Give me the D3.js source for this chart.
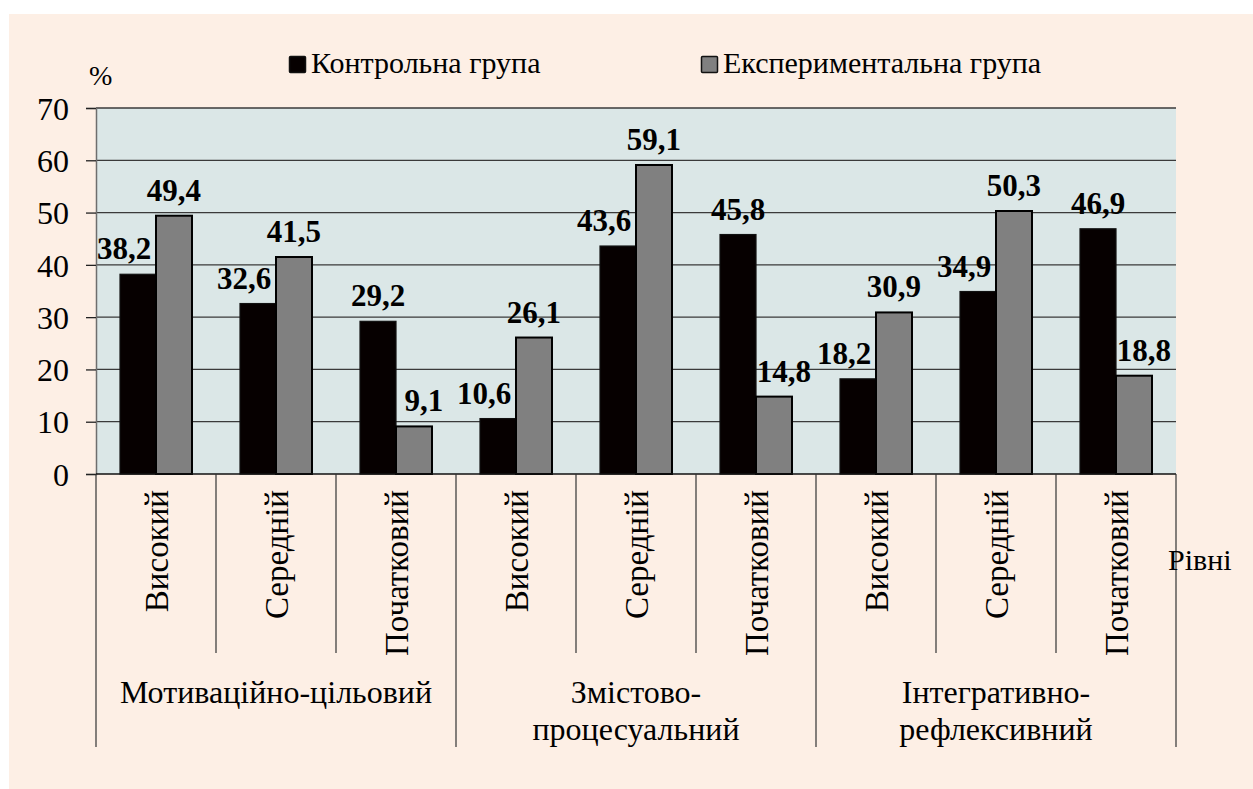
<!DOCTYPE html>
<html>
<head>
<meta charset="utf-8">
<script src="https://cdn.jsdelivr.net/npm/d3@7"></script>
<style>
  html, body { margin: 0; padding: 0; background: #ffffff; }
  svg { display: block; }
</style>
</head>
<body>
<svg id="chart" width="1253" height="789"></svg>
<script>
// ---- data ----
const groupLines = [["Мотиваційно-цільовий"], ["Змістово-", "процесуальний"], ["Інтегративно-", "рефлексивний"]];
const levels = ["Високий", "Середній", "Початковий"];
const seriesNames = ["Контрольна група", "Експериментальна група"];
const control = [38.2, 32.6, 29.2, 10.6, 43.6, 45.8, 18.2, 34.9, 46.9];
const experimental = [49.4, 41.5, 9.1, 26.1, 59.1, 14.8, 30.9, 50.3, 18.8];
const yTicks = [0, 10, 20, 30, 40, 50, 60, 70];
const yLabel = "%";
const xLabel = "Рівні";

// ---- layout ----
const W = 1253, H = 789;
const FONT = "Liberation Serif";
const plot = { left: 96, right: 1176, top: 108, bottom: 474 };
const colors = { page: "#fdefe5", plot: "#dbe7e7", control: "#060000", exp: "#808080" };

const svg = d3.select("#chart");
const txt = (sel, size, weight) => sel.style("font-family", FONT).style("font-size", size + "px")
  .style("font-weight", weight || "normal").style("fill", "#000");

svg.append("rect").attr("x", 0).attr("y", 0).attr("width", W).attr("height", H).attr("fill", "#ffffff");
svg.append("rect").attr("x", 9).attr("y", 14).attr("width", W - 9).attr("height", H - 14).attr("fill", colors.page);

// categories: each group x level
const cats = [];
groupLines.forEach((g, gi) => levels.forEach((l, li) => cats.push({ key: gi + "-" + li, gi, li, level: l })));
cats.forEach((c, i) => { c.control = control[i]; c.exp = experimental[i]; });

const x = d3.scaleBand().domain(cats.map(c => c.key)).range([plot.left, plot.right]).padding(0);
const xInner = d3.scaleBand().domain(["control", "exp"]).range([0, x.bandwidth()]).paddingInner(0).paddingOuter(0.667);
const y = d3.scaleLinear().domain([0, 70]).range([plot.bottom, plot.top]);

// plot background
svg.append("rect").attr("x", plot.left).attr("y", plot.top)
  .attr("width", plot.right - plot.left).attr("height", plot.bottom - plot.top)
  .attr("fill", colors.plot);

// gridlines
svg.append("g").selectAll("line").data(yTicks.filter(t => t > 0)).join("line")
  .attr("x1", plot.left).attr("x2", plot.right)
  .attr("y1", d => y(d)).attr("y2", d => y(d))
  .attr("stroke", "#3a3a3a").attr("stroke-width", 1.3);

// y axis
const yAxis = d3.axisLeft(y).tickValues(yTicks).tickSize(10).tickPadding(17).tickFormat(d3.format("d"));
const yg = svg.append("g").attr("transform", `translate(${plot.left},0)`).call(yAxis);
yg.attr("font-family", null).attr("font-size", null);
yg.select(".domain").attr("stroke", "#6e6e6e").attr("stroke-width", 1.5);
yg.selectAll(".tick line").attr("stroke", "#222").attr("stroke-width", 1.3);
txt(yg.selectAll(".tick text"), 32).attr("dy", "0.35em");

// bars
const bars = svg.append("g");
cats.forEach(c => {
  bars.append("rect")
    .attr("x", x(c.key) + xInner("control")).attr("y", y(c.control))
    .attr("width", xInner.bandwidth()).attr("height", y(0) - y(c.control))
    .attr("fill", colors.control).attr("stroke", "#111").attr("stroke-width", 1.2);
  bars.append("rect")
    .attr("x", x(c.key) + xInner("exp")).attr("y", y(c.exp))
    .attr("width", xInner.bandwidth()).attr("height", y(0) - y(c.exp))
    .attr("fill", colors.exp).attr("stroke", "#000").attr("stroke-width", 2);
});

// value labels: shorter bar's label nudged away from taller neighbour
const fmt = v => v.toFixed(1).replace(".", ",");
const labels = svg.append("g");
cats.forEach(c => {
  const cShort = c.control < c.exp;
  const cx = x(c.key) + xInner("control") + xInner.bandwidth() / 2 + (cShort ? -14 : 0);
  const ex = x(c.key) + xInner("exp") + xInner.bandwidth() / 2 + (cShort ? 0 : 10);
  txt(labels.append("text").attr("x", cx).attr("y", y(c.control) - 15)
    .attr("text-anchor", "middle"), 31, "bold").text(fmt(c.control));
  txt(labels.append("text").attr("x", ex).attr("y", y(c.exp) - 15)
    .attr("text-anchor", "middle"), 31, "bold").text(fmt(c.exp));
});

// category axis
const axisColor = "#333";
svg.append("line").attr("x1", plot.left).attr("x2", plot.right).attr("y1", plot.bottom).attr("y2", plot.bottom)
  .attr("stroke", "#111").attr("stroke-width", 1.5);
const innerBottom = 653, outerBottom = 747;
const bounds = cats.map(c => ({ xPos: x(c.key), outer: c.li === 0 }));
bounds.push({ xPos: x(cats[cats.length - 1].key) + x.bandwidth(), outer: true });
svg.append("g").selectAll("line").data(bounds).join("line")
  .attr("x1", d => d.xPos).attr("x2", d => d.xPos)
  .attr("y1", plot.bottom).attr("y2", d => d.outer ? outerBottom : innerBottom)
  .attr("stroke", axisColor).attr("stroke-width", 1.2);

// level labels (rotated)
txt(svg.append("g").selectAll("text").data(cats).join("text")
  .attr("transform", d => `translate(${x(d.key) + x.bandwidth() / 2},490) rotate(-90)`)
  .attr("text-anchor", "end").attr("dy", "0.35em"), 33)
  .text(d => d.level);

// group labels
groupLines.forEach((lines, gi) => {
  const gx0 = x(gi + "-0"), gx1 = x(gi + "-2") + x.bandwidth();
  const t = txt(svg.append("text").attr("x", (gx0 + gx1) / 2).attr("y", 703)
    .attr("text-anchor", "middle"), 32);
  lines.forEach((ln, k) => t.append("tspan").attr("x", (gx0 + gx1) / 2).attr("dy", k === 0 ? 0 : 37).text(ln));
});

// axis titles
txt(svg.append("text").attr("x", 89).attr("y", 85), 28).text(yLabel);
txt(svg.append("text").attr("x", 1168).attr("y", 570), 30).text(xLabel);

// legend
const legend = [
  { name: seriesNames[0], fill: colors.control, sx: 289 },
  { name: seriesNames[1], fill: colors.exp, sx: 701 }
];
legend.forEach(l => {
  svg.append("rect").attr("x", l.sx + 0.5).attr("y", 56.5).attr("width", 16).attr("height", 16).attr("rx", 1)
    .attr("fill", l.fill).attr("stroke", "#111").attr("stroke-width", 1.5);
  txt(svg.append("text").attr("x", l.sx + 22).attr("y", 73), 30).text(l.name);
});
</script>
</body>
</html>
